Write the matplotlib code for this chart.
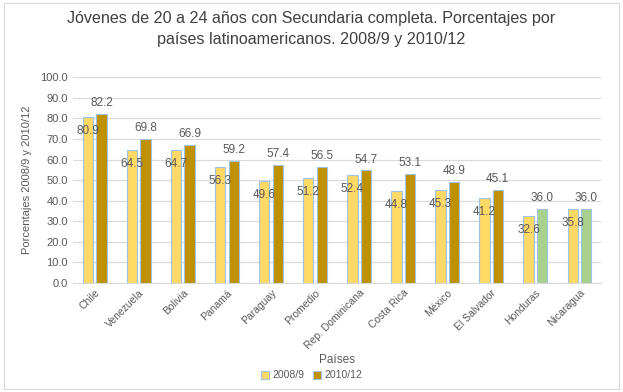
import matplotlib.pyplot as plt
import numpy as np
from matplotlib.patches import Rectangle

paises = ["Chile", "Venezuela", "Bolivia", "Panamá", "Paraguay", "Promedio",
          "Rep. Dominicana", "Costa Rica", "México", "El Salvador", "Honduras", "Nicaragua"]
v2008 = [80.9, 64.5, 64.7, 56.3, 49.6, 51.2, 52.4, 44.8, 45.3, 41.2, 32.6, 35.8]
v2010 = [82.2, 69.8, 66.9, 59.2, 57.4, 56.5, 54.7, 53.1, 48.9, 45.1, 36.0, 36.0]
yticks = np.arange(0, 101, 10)

plt.rcParams['font.family'] = ['Liberation Sans', 'DejaVu Sans']

fig = plt.figure(figsize=(6.23, 3.92), dpi=100)
ax = fig.add_axes([0.117, 0.278, 0.848, 0.525])

x = np.arange(len(paises))
w = 0.23
off = 0.15
col2010 = ['#BF9000'] * 10 + ['#A9D18E'] * 2
b1 = ax.bar(x - off, v2008, w, color='#FFD966', edgecolor='#9DC3E6', linewidth=0.8,
            label='2008/9', zorder=3)
b2 = ax.bar(x + off, v2010, w, color=col2010, edgecolor='#9DC3E6', linewidth=0.8,
            label='2010/12', zorder=3)

for xi, v in zip(x, v2008):
    ax.text(xi - off, v - 6.8, f"{v:.1f}", ha='center', va='center',
            fontsize=8.5, color='#595959', zorder=4)
for xi, v in zip(x, v2010):
    ax.text(xi + off, v + 5.3, f"{v:.1f}", ha='center', va='center',
            fontsize=8.5, color='#595959', zorder=4)

ax.set_ylim(0, 100)
ax.set_xlim(-0.5, len(paises) - 0.5)
ax.set_yticks(yticks)
ax.set_yticklabels([f"{t:.1f}" for t in yticks])
ax.yaxis.grid(True, color='#D9D9D9', linewidth=0.8, zorder=0)
ax.set_axisbelow(True)
for s in ['top', 'right', 'left']:
    ax.spines[s].set_visible(False)
ax.spines['bottom'].set_color('#D9D9D9')
ax.tick_params(axis='both', length=0, labelsize=7.5, colors='#595959')
ax.tick_params(axis='y', labelsize=8)
ax.set_xticks(x)
ax.set_xticklabels(paises, rotation=45, ha='right', rotation_mode='anchor')

ax.set_xlabel("Países", fontsize=8.5, color='#595959', labelpad=2)
ax.set_ylabel("Porcentajes 2008/9 y 2010/12", fontsize=8, color='#595959', labelpad=6)

fig.text(0.5, 0.925, "Jóvenes de 20 a 24 años con Secundaria completa. Porcentajes por\n"
         "países latinoamericanos. 2008/9 y 2010/12",
         ha='center', va='center', fontsize=11.6, color='#404040', linespacing=1.5)

handles = [b1, b2[0]]
fig.legend(handles, ['2008/9', '2010/12'], loc='center', bbox_to_anchor=(0.5, 0.043),
           ncol=2, frameon=False, fontsize=7.5, labelcolor='#595959',
           handlelength=0.8, handleheight=0.8, handletextpad=0.3, columnspacing=0.8)

fig.patches.append(Rectangle((0.006, 0.008), 0.988, 0.985, transform=fig.transFigure,
                             fill=False, edgecolor='#D9D9D9', linewidth=0.8))

fig.savefig("out.png", dpi=100)
